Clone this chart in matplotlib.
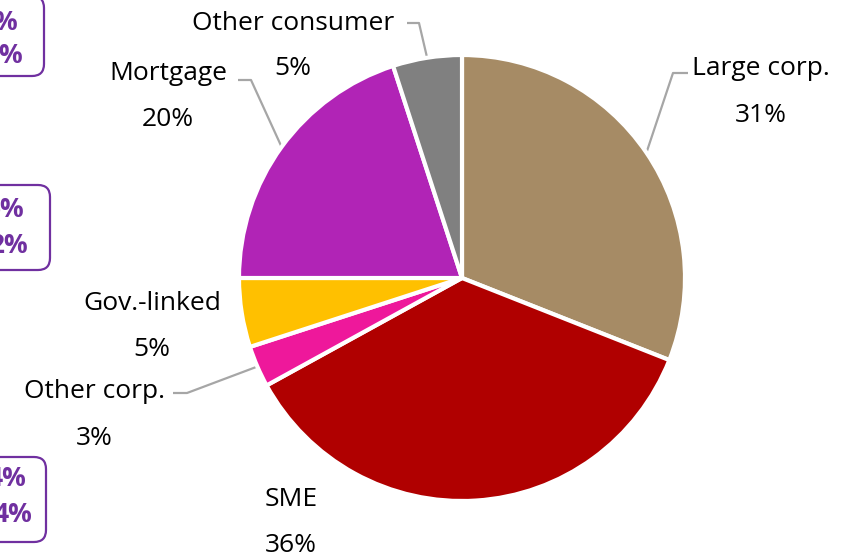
import numpy as np
import matplotlib.pyplot as plt
from matplotlib.patches import FancyBboxPatch

plt.rcParams['font.family'] = ['Open Sans', 'DejaVu Sans']

# Loan book composition
segments = ["Large corp.", "SME", "Other corp.", "Gov.-linked", "Mortgage", "Other consumer"]
shares = [31, 36, 3, 5, 20, 5]
colors = ["#A68B65", "#B00000", "#EE189B", "#FFC000", "#B124B6", "#808080"]

# Partially visible call-out boxes on the left margin (two lines each)
box_lines = [["%", "6%"], ["6%", "2%"], ["4%", "4%"]]

W, H = 847, 559
fig = plt.figure(figsize=(W / 100, H / 100), dpi=100)

# Overlay axes in pixel coordinates for labels and boxes
ov = fig.add_axes([0, 0, 1, 1])
ov.set_xlim(0, W)
ov.set_ylim(H, 0)
ov.axis("off")

# Pie axes: centre (462, 278), radius 223 px
cx, cy, r = 462, 278, 223
ax = fig.add_axes([(cx - r) / W, (H - cy - r) / H, 2 * r / W, 2 * r / H])
wedges, _ = ax.pie(shares, colors=colors, startangle=90, counterclock=False,
                   radius=1.0, wedgeprops=dict(edgecolor="white", linewidth=3))
ax.set_xlim(-1, 1)
ax.set_ylim(-1, 1)
ax.axis("off")


def edge_point(w, rad=1.0):
    ang = np.deg2rad((w.theta1 + w.theta2) / 2)
    return cx + r * rad * np.cos(ang), cy - r * rad * np.sin(ang)


# (x centre, name baseline, value baseline)
label_pos = {
    "Large corp.": (761, 75, 122),
    "SME": (291, 506, 552),
    "Other corp.": (94, 398, 445),
    "Gov.-linked": (152, 310, 356),
    "Mortgage": (168, 80, 126),
    "Other consumer": (293, 30, 75),
}
# leader lines: (start x, elbow x, y) next to the name
leaders = {
    "Large corp.": (688, 673, 73),
    "Other corp.": (173, 187, 393),
    "Mortgage": (238, 251, 80),
    "Other consumer": (407, 419, 23),
}

fs = 19
for name, val, w in zip(segments, shares, wedges):
    lx, ny, vy = label_pos[name]
    ov.text(lx, ny, name, ha="center", va="baseline", fontsize=fs, color="black")
    ov.text(lx, vy, f"{val}%", ha="center", va="baseline", fontsize=fs, color="black")
    if name in leaders:
        sx, ex, y = leaders[name]
        px, py = edge_point(w)
        ov.plot([sx, ex, px], [y, y, py], color="#A6A6A6", lw=1.6,
                solid_capstyle="butt", zorder=1)

# Rounded call-out boxes cut off by the left edge
boxes = [(-4, 76, 44, [30, 63], [17, 23]),
         (185, 270, 50, [217, 253], [24, 28]),
         (457, 542, 46, [486, 522], [26, 32])]
for (top, bot, right, ys, xs), lines in zip(boxes, box_lines):
    bp = FancyBboxPatch((-200, top), right + 200, bot - top,
                        boxstyle="round,pad=0,rounding_size=12",
                        facecolor="white", edgecolor="#7030A0", lw=1.6)
    ov.add_patch(bp)
    for txt, ty, tx in zip(lines, ys, xs):
        ov.text(tx, ty, txt, ha="right", va="baseline", fontsize=fs,
                fontweight="bold", color="#7030A0")

fig.savefig("out.png", dpi=100)
